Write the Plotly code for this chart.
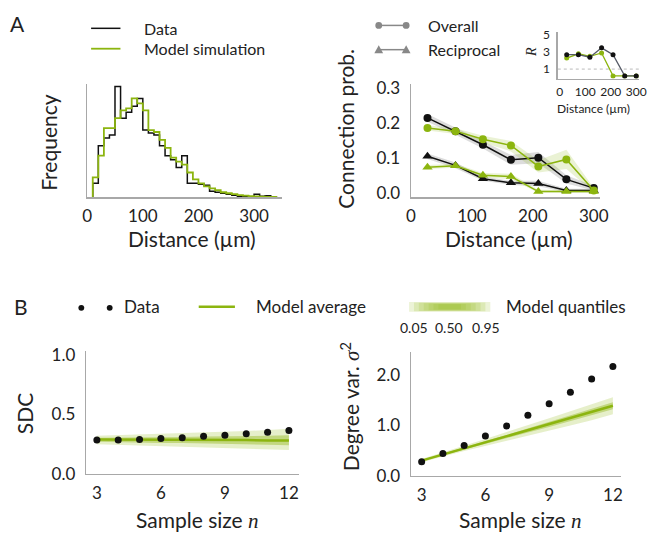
import plotly.graph_objects as go

W, H = 648, 542
def fx(p): return p / W
def fy(p): return 1 - p / H

GREEN = '#8cb50f'
AXC = '#a8a8a8'
TXT = '#222222'
FONT = 'Lato'
SERIF_I = 'font-family:Liberation Serif;font-style:italic'

# ---------------- Panel A (left): distance histogram ----------------
hist_bin_edges = [10, 20, 30, 40, 50, 60, 70, 80, 90, 100, 110, 120, 130, 140, 150, 160, 170,
                  180, 190, 200, 210, 220, 230, 240, 250, 260, 270, 280, 290, 300, 310, 320, 330, 340]
hist_data_freq = [14, 52, 60, 63, 112, 80, 86, 92, 100, 68, 65, 63, 52, 42, 38, 30, 42,
                  14, 14, 13, 12, 6, 5, 4, 3, 2, 1, 1, 0.5, 3, 1, 1.5, 0.5]
hist_model_freq = [20, 42, 70, 70, 80, 88, 90, 100, 95, 88, 68, 66, 58, 50, 40, 36, 33,
                   25, 18, 14, 11, 9, 7, 5, 4, 3, 2, 1.5, 1, 0.8, 0.5, 0.3, 0.2]
hist_xticks = [0, 100, 200, 300]

# ---------------- Panel A (right): connection probability ----------------
dist_centers = [27, 73, 118, 164, 209, 255, 300]
overall_data = [0.216, 0.178, 0.139, 0.096, 0.102, 0.040, 0.015]
overall_data_lo = [0.205, 0.168, 0.128, 0.082, 0.086, 0.028, 0.008]
overall_data_hi = [0.227, 0.189, 0.150, 0.110, 0.118, 0.052, 0.022]
overall_model = [0.187, 0.178, 0.155, 0.137, 0.077, 0.097, 0.008]
overall_model_lo = [0.180, 0.170, 0.145, 0.120, 0.060, 0.070, 0.003]
overall_model_hi = [0.195, 0.186, 0.165, 0.150, 0.095, 0.125, 0.015]
recip_data = [0.106, 0.080, 0.042, 0.030, 0.028, 0.008, 0.008]
recip_data_lo = [0.098, 0.072, 0.036, 0.024, 0.020, 0.003, 0.003]
recip_data_hi = [0.114, 0.088, 0.048, 0.036, 0.036, 0.013, 0.013]
recip_model = [0.075, 0.079, 0.052, 0.048, 0.005, 0.005, 0.005]
recip_model_lo = [0.070, 0.073, 0.046, 0.040, 0.002, 0.002, 0.002]
recip_model_hi = [0.081, 0.085, 0.058, 0.056, 0.010, 0.010, 0.010]
conn_yticks = [0.0, 0.1, 0.2, 0.3]
conn_xticks = [0, 100, 200, 300]

# inset: R = reciprocal ratio
R_data = [2.7, 2.7, 2.4, 3.5, 2.7, 0.2, 0.2]
R_model = [2.3, 2.8, 2.5, 2.9, 0.2, 0.2, 0.2]
R_yticks = [1, 3, 5]
R_ref = 1

# ---------------- Panel B ----------------
sample_n = [3, 4, 5, 6, 7, 8, 9, 10, 11, 12]
sdc_data = [0.284, 0.284, 0.289, 0.297, 0.305, 0.316, 0.324, 0.338, 0.351, 0.365]
sdc_model_avg = [0.29, 0.29, 0.29, 0.29, 0.29, 0.285, 0.285, 0.285, 0.28, 0.28]
sdc_q05 = [0.25, 0.245, 0.24, 0.235, 0.23, 0.225, 0.22, 0.21, 0.205, 0.20]
sdc_q25 = [0.27, 0.265, 0.265, 0.26, 0.26, 0.255, 0.25, 0.25, 0.245, 0.24]
sdc_q75 = [0.305, 0.305, 0.31, 0.31, 0.31, 0.315, 0.315, 0.32, 0.32, 0.325]
sdc_q95 = [0.32, 0.325, 0.33, 0.335, 0.34, 0.345, 0.35, 0.36, 0.37, 0.38]
var_data = [0.28, 0.44, 0.60, 0.79, 0.99, 1.20, 1.43, 1.66, 1.92, 2.17]
var_model_avg = [0.30, 0.42, 0.54, 0.66, 0.78, 0.90, 1.02, 1.14, 1.27, 1.39]
var_q05 = [0.27, 0.38, 0.49, 0.60, 0.70, 0.80, 0.90, 1.00, 1.10, 1.22]
var_q25 = [0.29, 0.40, 0.52, 0.63, 0.75, 0.86, 0.97, 1.09, 1.20, 1.32]
var_q75 = [0.31, 0.44, 0.56, 0.69, 0.81, 0.94, 1.07, 1.20, 1.33, 1.46]
var_q95 = [0.33, 0.46, 0.60, 0.73, 0.87, 1.00, 1.14, 1.28, 1.42, 1.56]
n_ticks = [3, 6, 9, 12]
quantile_labels = ['0.05', '0.50', '0.95']

fig = go.Figure()

# histogram step lines
def step_xy(edges, vals):
    xs = [edges[0]] + edges[:-1] + [edges[-1]]
    ys = [0] + list(vals) + [0]
    return xs, ys

hx, hy = step_xy(hist_bin_edges, hist_data_freq)
fig.add_trace(go.Scatter(x=hx, y=hy, mode='lines', line=dict(color='#111', width=1.5, shape='hv'),
                         xaxis='x', yaxis='y', showlegend=False))
mx, my = step_xy(hist_bin_edges, hist_model_freq)
fig.add_trace(go.Scatter(x=mx, y=my, mode='lines', line=dict(color=GREEN, width=1.8, shape='hv'),
                         xaxis='x', yaxis='y', showlegend=False))

def band(x, lo, hi, color, ax, ay):
    fig.add_trace(go.Scatter(x=list(x) + list(x)[::-1], y=list(hi) + list(lo)[::-1],
                             fill='toself', fillcolor=color, line=dict(width=0),
                             mode='lines', hoverinfo='skip', showlegend=False,
                             xaxis=ax, yaxis=ay))

band(dist_centers, overall_data_lo, overall_data_hi, 'rgba(140,140,140,0.30)', 'x2', 'y2')
band(dist_centers, recip_data_lo, recip_data_hi, 'rgba(140,140,140,0.30)', 'x2', 'y2')
band(dist_centers, overall_model_lo, overall_model_hi, 'rgba(140,181,15,0.18)', 'x2', 'y2')
band(dist_centers, recip_model_lo, recip_model_hi, 'rgba(140,181,15,0.18)', 'x2', 'y2')

for ys, col, sym, sz in [(overall_data, '#111', 'circle', 8), (recip_data, '#111', 'triangle-up', 9),
                         (overall_model, GREEN, 'circle', 8), (recip_model, GREEN, 'triangle-up', 9)]:
    fig.add_trace(go.Scatter(x=dist_centers, y=ys, mode='lines+markers',
                             line=dict(color=col, width=1.5),
                             marker=dict(color=col, symbol=sym, size=sz),
                             xaxis='x2', yaxis='y2', showlegend=False))

# inset
fig.add_trace(go.Scatter(x=[-8, 311], y=[R_ref, R_ref], mode='lines',
                         line=dict(color='#bbbbbb', width=1, dash='dot'),
                         xaxis='x3', yaxis='y3', showlegend=False))
fig.add_trace(go.Scatter(x=dist_centers, y=R_model, mode='lines+markers',
                         line=dict(color=GREEN, width=1.3), marker=dict(color=GREEN, size=5),
                         xaxis='x3', yaxis='y3', showlegend=False))
fig.add_trace(go.Scatter(x=dist_centers, y=R_data, mode='lines+markers',
                         line=dict(color='#555a66', width=1.3), marker=dict(color='#111', size=5),
                         xaxis='x3', yaxis='y3', showlegend=False))

# bottom panels
for ax, ay, q05, q25, q75, q95, avg, dat in [
        ('x4', 'y4', sdc_q05, sdc_q25, sdc_q75, sdc_q95, sdc_model_avg, sdc_data),
        ('x5', 'y5', var_q05, var_q25, var_q75, var_q95, var_model_avg, var_data)]:
    band(sample_n, q05, q95, 'rgba(140,181,15,0.22)', ax, ay)
    band(sample_n, q25, q75, 'rgba(140,181,15,0.40)', ax, ay)
    fig.add_trace(go.Scatter(x=sample_n, y=avg, mode='lines', line=dict(color=GREEN, width=2.5),
                             xaxis=ax, yaxis=ay, showlegend=False))
    fig.add_trace(go.Scatter(x=sample_n, y=dat, mode='markers', marker=dict(color='#111', size=7),
                             xaxis=ax, yaxis=ay, showlegend=False))

axbase = dict(showline=True, linecolor=AXC, linewidth=1.5, showgrid=False, zeroline=False,
              ticks='', tickfont=dict(size=17, color=TXT, family=FONT), fixedrange=True)
small = dict(size=12, color=TXT, family=FONT)

fig.update_layout(
    width=W, height=H, margin=dict(l=0, r=0, t=0, b=0),
    paper_bgcolor='white', plot_bgcolor='white',
    font=dict(family=FONT, color=TXT),
    showlegend=False,
    xaxis=dict(axbase, domain=[fx(84), fx(283)], range=[0, 350], tickvals=hist_xticks,
               anchor='y', ticklabelstandoff=3),
    yaxis=dict(axbase, domain=[fy(197), fy(80)], range=[0, 115], showticklabels=False, anchor='x'),
    xaxis2=dict(axbase, domain=[fx(415), fx(608)], range=[0, 310], tickvals=conn_xticks,
                anchor='y2', ticklabelstandoff=3),
    yaxis2=dict(axbase, domain=[fy(197), fy(80)], range=[-0.011, 0.314], tickvals=conn_yticks,
                tickformat='.1f', anchor='x2', ticklabelstandoff=6),
    xaxis3=dict(axbase, domain=[fx(565), 1.0], range=[-8, 311], tickvals=conn_xticks,
                tickfont=small, anchor='y3', ticklabelstandoff=1),
    yaxis3=dict(axbase, domain=[fy(75), fy(27)], range=[-0.14, 5.34], tickvals=R_yticks,
                tickfont=small, anchor='x3', ticklabelstandoff=4),
    xaxis4=dict(axbase, domain=[fx(83), fx(300)], range=[2.5, 12.45], tickvals=n_ticks,
                anchor='y4', ticklabelstandoff=3),
    yaxis4=dict(axbase, domain=[fy(482), fy(355)], range=[0, 1.04], tickvals=[0, 0.5, 1.0],
                tickformat='.1f', anchor='x4', ticklabelstandoff=6),
    xaxis5=dict(axbase, domain=[fx(415), fx(630)], range=[2.5, 12.4], tickvals=n_ticks,
                anchor='y5', ticklabelstandoff=3),
    yaxis5=dict(axbase, domain=[fy(484), fy(357)], range=[0, 2.45], tickvals=[0, 1.0, 2.0],
                tickformat='.1f', anchor='x5', ticklabelstandoff=6),
)

ann = []
def text(px, py, s, size, angle=0, xanchor='center', color=TXT):
    ann.append(dict(x=fx(px), y=fy(py), xref='paper', yref='paper', text=s, showarrow=False,
                    font=dict(size=size, color=color, family=FONT), textangle=angle,
                    xanchor=xanchor, yanchor='middle'))

text(13, 18, 'A', 21)
text(16, 310, 'B', 21)
text(45, 141, 'Frequency', 21, -90)
text(191, 240, 'Distance (µm)', 21)
text(348, 126, 'Connection prob.', 21, -90)
text(515, 240, 'Distance (µm)', 21)
text(538, 47, f'<span style="{SERIF_I}">R</span>', 14, -90)
text(602, 106, 'Distance (µm)', 12)
text(20, 420, 'SDC', 21, -90)
text(197, 530, f'Sample size <span style="{SERIF_I}">n</span>', 21)
text(527, 530, f'Sample size <span style="{SERIF_I}">n</span>', 21)
text(353, 413, f'Degree var. <span style="{SERIF_I}">σ</span><sup>2</sup>', 21, -90)

# legends (A left)
text(140, 23, 'Data', 16, xanchor='left')
text(140, 44, 'Model simulation', 16, xanchor='left')
# legends (A right)
text(430, 20, 'Overall', 16, xanchor='left')
text(430, 45, 'Reciprocal', 16, xanchor='left')
# legend (B)
text(120, 310, 'Data', 17, xanchor='left')
text(254, 310, 'Model average', 17, xanchor='left')
text(510, 310, 'Model quantiles', 17, xanchor='left')
for lbl, px in zip(quantile_labels, [418, 454, 492]):
    text(px, 331, lbl, 14)

fig.update_layout(annotations=ann)

shapes = []
def pline(x0, y0, x1, y1, color, width):
    shapes.append(dict(type='line', xref='paper', yref='paper', x0=fx(x0), y0=fy(y0), x1=fx(x1), y1=fy(y1),
                       line=dict(color=color, width=width)))
def pcircle(cx, cy, r, color):
    shapes.append(dict(type='circle', xref='paper', yref='paper', x0=fx(cx - r), x1=fx(cx + r),
                       y0=fy(cy + r), y1=fy(cy - r), fillcolor=color, line=dict(width=0)))
def ptri(cx, cy, r, color):
    path = f'M {fx(cx - r)} {fy(cy + r * 0.8)} L {fx(cx + r)} {fy(cy + r * 0.8)} L {fx(cx)} {fy(cy - r)} Z'
    shapes.append(dict(type='path', xref='paper', yref='paper', path=path, fillcolor=color, line=dict(width=0)))

pline(88, 23, 118, 23, '#111', 1.5)
pline(88, 44, 118, 44, GREEN, 1.8)
pline(382, 20, 410, 20, '#888', 1.5)
pcircle(382, 20, 3.5, '#888')
pcircle(410, 20, 3.5, '#888')
pline(382, 45, 410, 45, '#888', 1.5)
ptri(382, 45, 4.5, '#888')
ptri(410, 45, 4.5, '#888')
pcircle(78, 311, 3, '#111')
pcircle(107, 311, 3, '#111')
pline(198, 310, 235, 310, GREEN, 2.5)
# gradient quantile swatch
for i in range(7):
    shapes.append(dict(type='rect', xref='paper', yref='paper',
                       x0=fx(413 + i * 5), x1=fx(496 - i * 5),
                       y0=fy(315 - i * 0.4), y1=fy(305 + i * 0.4),
                       fillcolor='rgba(140,181,15,0.17)', line=dict(width=0)))
fig.update_layout(shapes=shapes)

fig.write_html('out.html', config={'displayModeBar': False, 'staticPlot': True},
               post_script="document.body.style.margin='0';document.body.style.padding='0';"
                           "document.documentElement.style.overflow='hidden';")
